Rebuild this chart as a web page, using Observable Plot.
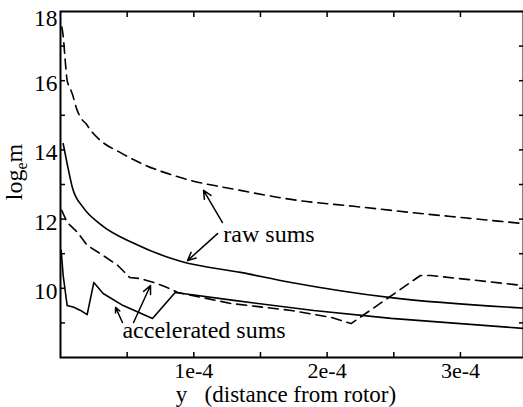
<!DOCTYPE html>
<html><head><meta charset="utf-8">
<script src="https://cdn.jsdelivr.net/npm/d3@7"></script>
<script src="https://cdn.jsdelivr.net/npm/@observablehq/plot@0.6"></script>
<style>html,body{margin:0;padding:0;background:#fff;overflow:hidden} svg{display:block} svg text{font-family:"Liberation Serif",serif}</style>
</head><body><div id="chart"></div>
<script>
// x values are in units of 1e-4 (distance from rotor)
const rawDashedX = [0.01, 0.02, 0.035, 0.05, 0.07, 0.09, 0.12, 0.15, 0.19, 0.24, 0.3, 0.45, 0.6, 0.9, 1.35, 1.78, 2.2, 2.63, 3.05, 3.473];
const rawDashedY = [17.55, 17.3, 16.6, 16.0, 15.8, 15.6, 15.2, 14.94, 14.76, 14.5, 14.27, 13.92, 13.62, 13.2, 12.83, 12.54, 12.37, 12.19, 12.03, 11.87];
const rawSolidX = [0.02, 0.05, 0.09, 0.17, 0.3, 0.55, 0.9, 1.35, 1.73, 2.48, 3.473];
const rawSolidY = [14.18, 13.6, 12.9, 12.34, 11.85, 11.3, 10.78, 10.46, 10.17, 9.73, 9.43];
const accDashedX = [0.01, 0.05, 0.13, 0.2, 0.3, 0.43, 0.52, 0.6, 0.7, 0.8, 0.88, 1.28, 1.73, 2.03, 2.18, 2.7, 2.78, 3.473];
const accDashedY = [12.25, 11.9, 11.61, 11.24, 11.0, 10.66, 10.31, 10.28, 10.17, 10.02, 9.88, 9.56, 9.36, 9.16, 8.98, 10.37, 10.37, 10.08];
const accSolidX = [0.005, 0.02, 0.05, 0.1, 0.15, 0.2, 0.25, 0.32, 0.47, 0.69, 0.86, 1.3, 1.9, 2.48, 3.0, 3.473];
const accSolidY = [11.1, 10.37, 9.5, 9.45, 9.36, 9.24, 10.17, 9.85, 9.5, 9.13, 9.88, 9.65, 9.36, 9.13, 8.98, 8.84];

const xTickValues = [1, 2, 3];
const xTickLabels = ["1e-4", "2e-4", "3e-4"];
const xMinorTicks = [0.5, 1, 1.5, 2, 2.5, 3];
const yTickValues = [10, 12, 14, 16];
const yTopTick = [18];
const yMinorTicks = [9, 10, 11, 12, 13, 14, 15, 16, 17];

const noteTexts = [
  {x: 1.564, y: 11.55, text: "raw sums"},
  {x: 1.077, y: 8.78, text: "accelerated sums"}
];
const noteArrows = [
  {x1: 1.215, y1: 11.90, x2: 1.073, y2: 12.83},
  {x1: 1.178, y1: 11.58, x2: 0.953, y2: 10.80},
  {x1: 0.465, y1: 9.01, x2: 0.413, y2: 9.45},
  {x1: 0.548, y1: 9.01, x2: 0.675, y2: 10.08}
];
const xLabel = "y\u00a0\u00a0\u00a0(distance from rotor)";

const series = (xs, ys) => xs.map((x, i) => ({x, y: ys[i]}));
const font = "Liberation Serif";
const blank = () => "";

const chart = Plot.plot({
  width: 523, height: 407,
  marginLeft: 60, marginRight: 0, marginTop: 11, marginBottom: 50,
  style: {fontFamily: font, fontSize: "23.5px", background: "white", color: "black"},
  x: {domain: [0, 3.473], axis: null},
  y: {domain: [8, 18], axis: null},
  marks: [
    Plot.line(series(rawDashedX, rawDashedY), {x: "x", y: "y", stroke: "black", strokeWidth: 1.6, strokeDasharray: "10,6", curve: "monotone-x"}),
    Plot.line(series(rawSolidX, rawSolidY), {x: "x", y: "y", stroke: "black", strokeWidth: 1.6, curve: "monotone-x"}),
    Plot.line(series(accDashedX, accDashedY), {x: "x", y: "y", stroke: "black", strokeWidth: 1.6, strokeDasharray: "10,6"}),
    Plot.line(series(accSolidX, accSolidY), {x: "x", y: "y", stroke: "black", strokeWidth: 1.6}),
    Plot.arrow(noteArrows, {x1: "x1", y1: "y1", x2: "x2", y2: "y2", stroke: "black", strokeWidth: 1.5, headLength: 9, headAngle: 50}),
    Plot.text(noteTexts, {x: "x", y: "y", text: "text", fontSize: 24, fontFamily: font, fill: "black"}),
    Plot.axisX({anchor: "bottom", ticks: xMinorTicks, tickSize: -5, tickFormat: blank, label: null, strokeWidth: 1.5}),
    Plot.axisX({anchor: "top", ticks: xMinorTicks, tickSize: -5, tickFormat: blank, label: null, strokeWidth: 1.5}),
    Plot.axisX({anchor: "bottom", ticks: xTickValues, tickSize: 0, tickPadding: 5, fontSize: 22, tickFormat: d => xTickLabels[xTickValues.indexOf(d)], label: null, fontFamily: font, fill: "black"}),
    Plot.axisY({anchor: "left", ticks: yMinorTicks, tickSize: -5, tickFormat: blank, label: null, strokeWidth: 1.5}),
    Plot.axisY({anchor: "right", ticks: yMinorTicks, tickSize: -5, tickFormat: blank, label: null, strokeWidth: 1.5}),
    Plot.axisY({anchor: "left", ticks: yTickValues, tickSize: 0, tickPadding: 3, dy: 3, tickFormat: d => String(d), label: null, fontFamily: font, fill: "black"}),
    Plot.axisY({anchor: "left", ticks: yTopTick, tickSize: 0, tickPadding: 3, dy: 7, tickFormat: d => String(d), label: null, fontFamily: font, fill: "black"}),
    Plot.text([xLabel], {frameAnchor: "bottom", dy: 37.5, dx: -6, lineAnchor: "middle", fontSize: 23, fontFamily: font, fill: "black"}),
    Plot.frame({stroke: "black", strokeWidth: 2})
  ]
});

// y axis label with subscript: log_e m
const svg = d3.select(chart);
const yl = svg.append("text")
  .attr("transform", "translate(22,172) rotate(-90)")
  .attr("text-anchor", "middle")
  .attr("font-family", font)
  .attr("font-size", 24)
  .attr("fill", "black");
yl.append("tspan").text("log");
yl.append("tspan").attr("font-size", 16).attr("dy", 5).text("e");
yl.append("tspan").attr("dy", -5).text("m");

document.getElementById("chart").appendChild(chart);
</script>
</body></html>
